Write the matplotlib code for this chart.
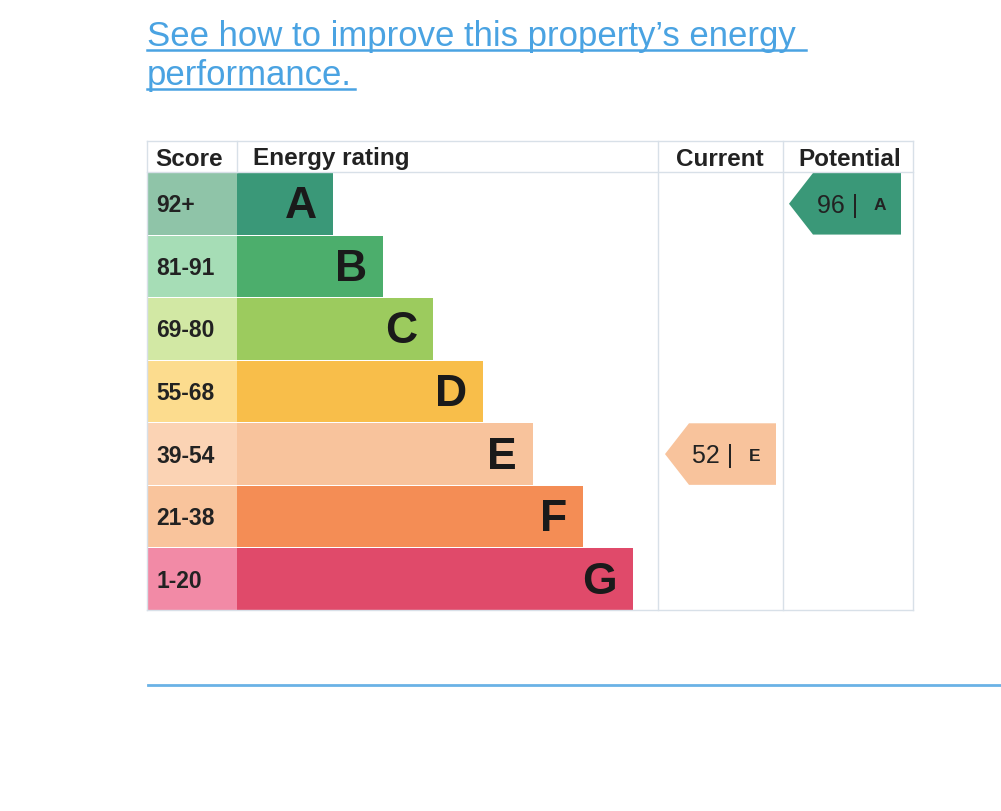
import matplotlib
matplotlib.use("Agg")
import matplotlib.pyplot as plt
from matplotlib.patches import Rectangle, Polygon

# ---- data ----
bands = ["A", "B", "C", "D", "E", "F", "G"]
score_ranges = ["92+", "81-91", "69-80", "55-68", "39-54", "21-38", "1-20"]
bar_colors = ["#3a9878", "#4cae6c", "#9ccb5e", "#f8be4a", "#f8c39c", "#f48d55", "#e04a6a"]
score_colors = ["#8fc4a8", "#a6ddb6", "#d2e8a4", "#fcdc8e", "#fbd3b4", "#f9c49c", "#f28aa6"]
current_score, current_band = 52, "E"
potential_score, potential_band = 96, "A"
headers = ["Score", "Energy rating", "Current", "Potential"]
title_lines = ["See how to improve this property\u2019s energy", "performance."]

plt.rcParams['font.family'] = ['Liberation Sans', 'DejaVu Sans']
fig = plt.figure(figsize=(10.01, 8.12), dpi=100)
ax = fig.add_axes([0, 0, 1, 1])
ax.set_xlim(0, 1001)
ax.set_ylim(812, 0)
ax.axis("off")

# layout (pixels)
left, score_right, cur_left, pot_left, right = 147, 237, 658, 783, 913
head_top, head_bot = 142, 173
bottom = 611
row_h = (bottom - head_bot) / len(bands)
bar_right0, bar_step = 333, 50

# title
link = "#4aa3e2"
ax.text(left, 46, title_lines[0], fontsize=25, color=link, va="baseline", ha="left")
ax.text(left, 85, title_lines[1], fontsize=25, color=link, va="baseline", ha="left")
ax.plot([left, 806], [51, 51], color=link, lw=1.8)
ax.plot([left, 355], [90, 90], color=link, lw=1.8)

# grid
gc = "#d8e0e8"
for y in [head_top, head_bot, bottom]:
    ax.plot([left, right], [y, y], color=gc, lw=1)
for x in [left, cur_left, pot_left, right]:
    ax.plot([x, x], [head_top, bottom], color=gc, lw=1)
ax.plot([score_right, score_right], [head_top, head_bot], color=gc, lw=1)

# headers
hy = 159
hk = dict(fontsize=17.5, fontweight="bold", color="#222", va="center")
ax.text(155, hy, headers[0], ha="left", **hk)
ax.text(253, hy, headers[1], ha="left", **hk)
ax.text(720, hy, headers[2], ha="center", **hk)
ax.text(850, hy, headers[3], ha="center", **hk)

# bands
for i, (b, s, bc, sc) in enumerate(zip(bands, score_ranges, bar_colors, score_colors)):
    y0 = head_bot + 1 + i * row_h
    h = row_h - 1
    ax.add_patch(Rectangle((left, y0), score_right - left, h, color=sc, lw=0))
    xr = bar_right0 + i * bar_step
    ax.add_patch(Rectangle((score_right, y0), xr - score_right, h, color=bc, lw=0))
    ax.text(156, y0 + h / 2 + 1, s, fontsize=16.5, fontweight="bold", color="#222", va="center")
    ax.text(xr - 16, y0 + h / 2 + 2, b, fontsize=32, fontweight="bold", color="#1a1a1a",
            va="center", ha="right")

def arrow(x0, x1, band, score, col):
    i = bands.index(band)
    y0 = head_bot + 1 + i * row_h
    y1 = y0 + row_h - 1
    ym = (y0 + y1) / 2
    pts = [(x0, ym), (x0 + 24, y0), (x1, y0), (x1, y1), (x0 + 24, y1)]
    ax.add_patch(Polygon(pts, closed=True, color=col, lw=0))
    ax.text(x1 - 43, ym + 1, f"{score} |", fontsize=18, color="#222", va="center", ha="right")
    ax.text(x1 - 21, ym + 1, band, fontsize=12.5, fontweight="bold", color="#222",
            va="center", ha="center")

arrow(665, 776, current_band, current_score, bar_colors[bands.index(current_band)])
arrow(789, 901, potential_band, potential_score, bar_colors[bands.index(potential_band)])

# bottom rule
ax.plot([148, 1001], [686, 686], color="#6ab2e6", lw=2)

fig.savefig("out.png", dpi=100)
